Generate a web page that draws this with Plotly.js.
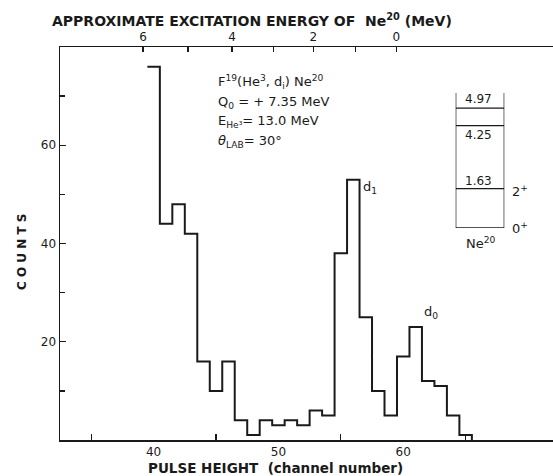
<!DOCTYPE html>
<html>
<head>
<meta charset="utf-8">
<script src="https://cdn.plot.ly/plotly-3.0.1.min.js"></script>
<style>html,body{margin:0;padding:0;background:#fff;}#chart{width:553px;height:476px;}</style>
</head>
<body>
<div id="chart"></div>
<script>
// ---- data ----
const channels = [40,41,42,43,44,45,46,47,48,49,50,51,52,53,54,55,56,57,58,59,60,61,62,63,64,65];
const counts   = [76,44,48,42,16,10,16, 4, 1, 4, 3, 4, 3, 6, 5,38,53,25,10, 5,17,23,12,11, 5, 1];
const channelTickVals = [40,50,60];
const channelTickText = ['40','50','60'];
const energyTickLabels = ['6','','4','','2','','0'];
const energyTickChannels = [39.16,42.76,46.29,49.58,52.79,56.16,59.45];
const yTickVals = [20,40,60];
const levelEnergies = [0,1.63,4.25,4.97];
const levelTop = 5.6;

// build step histogram path (bins centred on channel numbers)
const hx = [], hy = [];
for (let i = 0; i < channels.length; i++) {
  hx.push(channels[i]-0.5, channels[i]+0.5);
  hy.push(counts[i], counts[i]);
}
hx.push(channels[channels.length-1]+0.5);
hy.push(0);

const ink = '#1a1a1a';
const traces = [{
  x: hx, y: hy, type: 'scatter', mode: 'lines',
  line: {color: ink, width: 2}, hoverinfo: 'skip', showlegend: false
}];
// dummy trace for top axis
traces.push({x: [energyTickChannels[0]], y: [0], xaxis: 'x2', yaxis: 'y', mode: 'markers',
  marker: {opacity: 0}, hoverinfo: 'skip', showlegend: false});
// level scheme
levelEnergies.forEach(e => traces.push({x: [0,1], y: [e,e], xaxis: 'x3', yaxis: 'y3', mode: 'lines',
  line: {color: ink, width: 1.3}, hoverinfo: 'skip', showlegend: false}));
[0,1].forEach(s => traces.push({x: [s,s], y: [0, levelTop], xaxis: 'x3', yaxis: 'y3', mode: 'lines',
  line: {color: ink, width: 1.3}, hoverinfo: 'skip', showlegend: false}));

const F = 'DejaVu Sans, Liberation Sans, sans-serif';
const px = v => (v-60)/493, py = v => (440-v)/393;
function ann(text, x, y, xa, size, extra) {
  return Object.assign({text: text, x: px(x), y: py(y), xref: 'paper', yref: 'paper',
    xanchor: xa || 'left', yanchor: 'middle', showarrow: false,
    font: {family: F, size: size || 13, color: ink}}, extra || {});
}
const annotations = [
  ann('F<sup>19</sup>(He<sup>3</sup>, d<sub>i</sub>) Ne<sup>20</sup>', 216, 82),
  ann('Q<sub>0</sub> = + 7.35 MeV', 216, 102),
  ann('E<sub>He³</sub>= 13.0 MeV', 216, 121),
  ann('<i>θ</i><sub>LAB</sub>= 30°', 216, 141),
  ann('d<sub>1</sub>', 361, 187),
  ann('d<sub>0</sub>', 422, 312),
  ann('4.97', 478, 99, 'center', 12),
  ann('4.25', 478, 135, 'center', 12),
  ann('1.63', 478, 181, 'center', 12),
  ann('2<sup>+</sup>', 510, 191, 'left', 13),
  ann('0<sup>+</sup>', 510, 228, 'left', 13),
  ann('Ne<sup>20</sup>', 481, 243, 'center', 13),
  ann('<b>APPROXIMATE EXCITATION ENERGY OF  Ne<sup>20</sup> (MeV)</b>', 252, 20, 'center', 14),
  ann('<b>PULSE HEIGHT  (channel number)</b>', 275, 468, 'center', 13.5),
  ann('<b>C O U N T S</b>', 22, 252, 'center', 12, {textangle: -90})
];

const layout = {
  width: 553, height: 476,
  margin: {l: 60, r: 0, t: 47, b: 36},
  paper_bgcolor: '#fff', plot_bgcolor: '#fff',
  showlegend: false,
  font: {family: F, size: 12, color: ink},
  xaxis: {
    range: [32.5, 72.0], showgrid: false, zeroline: false,
    showline: true, linecolor: ink, linewidth: 1.5,
    tickmode: 'array', tickvals: channelTickVals, ticktext: channelTickText,
    ticks: 'inside', ticklen: 0, tickcolor: ink,
    minor: {tickmode: 'array', tickvals: [35,45,55,65], ticks: 'inside', ticklen: 6, tickcolor: ink, tickwidth: 1.3, showgrid: false},
    tickfont: {family: F, size: 12, color: ink}, ticklabelstandoff: 0
  },
  xaxis2: {
    overlaying: 'x', side: 'top', anchor: 'y',
    range: [32.5, 72.0], showgrid: false, zeroline: false,
    showline: true, linecolor: ink, linewidth: 1.5,
    tickmode: 'array', tickvals: energyTickChannels, ticktext: energyTickLabels,
    ticks: 'inside', ticklen: 5, tickcolor: ink, tickwidth: 1.3,
    tickfont: {family: F, size: 12, color: ink}, ticklabelstandoff: 0
  },
  yaxis: {
    range: [0, 80], showgrid: false, zeroline: false,
    showline: true, linecolor: ink, linewidth: 1.5,
    tickmode: 'array', tickvals: yTickVals,
    ticks: 'inside', ticklen: 6, tickcolor: ink, tickwidth: 1.3,
    minor: {tickmode: 'array', tickvals: [10,30,50,70], ticks: 'inside', ticklen: 5, tickcolor: ink, tickwidth: 1.3, showgrid: false},
    tickfont: {family: F, size: 12, color: ink}, ticklabelstandoff: 0
  },
  xaxis3: {domain: [0.8026, 0.9012], anchor: 'y3', range: [0, 1], visible: false, fixedrange: true},
  yaxis3: {domain: [0.5394, 0.8830], anchor: 'x3', range: [0, levelTop], visible: false, fixedrange: true},
  annotations: annotations
};

Plotly.newPlot('chart', traces, layout, {staticPlot: true, displayModeBar: false});
</script>
</body>
</html>
